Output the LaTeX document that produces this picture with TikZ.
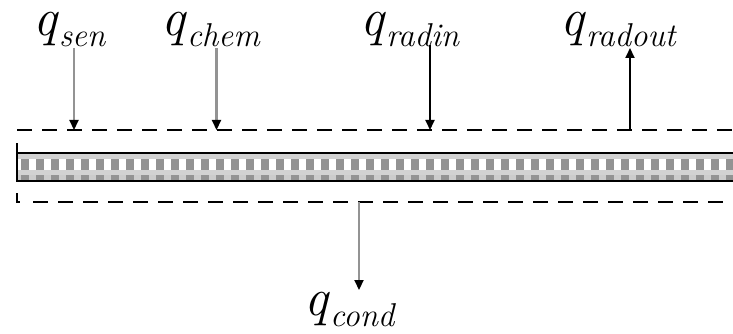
\documentclass[tikz,border=0pt]{standalone}
\usetikzlibrary{arrows.meta}
\newcommand\qlab[1]{{\itshape\fontsize{53}{53}\selectfont q\kern2pt}{\itshape\fontsize{33}{33}\selectfont\raisebox{-11pt}{#1}}}
\tikzset{
  lab/.style={anchor=base west, inner sep=0pt},
  grayarrow/.style={draw=gray!85, line width=2.2pt, -{Triangle[length=10pt,width=9pt,color=black]}},
  blackarrow/.style={draw=black, line width=1.8pt, -{Triangle[length=10pt,width=9pt]}},
  dashline/.style={line width=2.6pt, dash pattern=on 15pt off 10pt},
  barline/.style={line width=2pt},
}
\begin{document}
\begin{tikzpicture}[x=1pt,y=-1pt]
\useasboundingbox (0,0) rectangle (733,334);
% bar fill
\fill[gray!35] (17,153) rectangle (733,181);
\fill[white] (17,159) rectangle (733,170);
\fill[white!60!gray] (17,175) rectangle (733,180);
\foreach \i in {0,...,48} {
  \pgfmathsetmacro\xx{21+15*\i}
  \fill[gray!85] (\xx,159) rectangle ({min(\xx+8,733)},170);
  \fill[gray!85] (\xx,175) rectangle ({min(\xx+8,733)},180);
}
\draw[barline] (17,153) -- (733,153);
\draw[barline] (17,181) -- (733,181);
\draw[barline] (17,143) -- (17,182);
% dashed boundaries
\draw[dashline] (17,130) -- (733,130);
\draw[dashline] (33,202) -- (733,202);
\draw[line width=2pt] (17,193) -- (17,202) -- (20,202);
% labels
\node[lab] (qsen) at (33,36) {\qlab{sen}};
\node[lab] (qchem) at (161,36) {\qlab{chem}};
\node[lab] (qradin) at (360,36) {\qlab{radin}};
\node[lab] (qradout) at (560,36) {\qlab{radout}};
\node[lab] (qcond) at (304,315) {\qlab{cond}};
% arrow end points
\coordinate (sentop) at (74,48);   \coordinate (senbot) at (74,130);
\coordinate (chemtop) at (216.5,48); \coordinate (chembot) at (216.5,130);
\coordinate (radintop) at (430,45); \coordinate (radinbot) at (430,130);
\coordinate (radouttop) at (630,48); \coordinate (radoutbot) at (630,130);
\coordinate (condtop) at (359,202); \coordinate (condbot) at (359,290);
\draw[grayarrow] (sentop) -- (senbot);
\draw[grayarrow] (chemtop) -- (chembot);
\draw[blackarrow] (radintop) -- (radinbot);
\draw[blackarrow] (radoutbot) -- (radouttop);
\draw[grayarrow] (condtop) -- (condbot);
\end{tikzpicture}
\end{document}
